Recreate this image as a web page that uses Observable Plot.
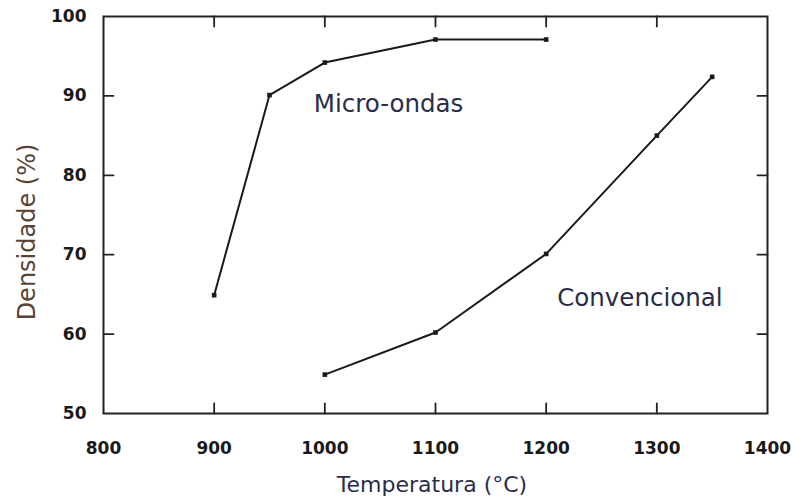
<!DOCTYPE html>
<html><head><meta charset="utf-8">
<script src="https://cdn.jsdelivr.net/npm/d3@7"></script>
<script src="https://cdn.jsdelivr.net/npm/@observablehq/plot@0.6"></script>
<style>html,body{margin:0;padding:0;background:#fff} svg{display:block}</style>
</head><body><div id="chart"></div>
<script>
// Data
const microTemp = [900, 950, 1000, 1100, 1200];
const microDens = [64.9, 90.1, 94.2, 97.1, 97.1];
const convTemp = [1000, 1100, 1200, 1300, 1350];
const convDens = [54.9, 60.2, 70.1, 85.0, 92.4];
const xTicks = [800, 900, 1000, 1100, 1200, 1300, 1400];
const yTicks = [50, 60, 70, 80, 90, 100];
const seriesNames = ["Micro-ondas", "Convencional"];
const seriesLabelTemp = [990, 1210];
const seriesLabelDens = [88.9, 64.5];
const xTitle = "Temperatura (°C)";
const yTitle = "Densidade (%)";

const micro = microTemp.map((t, i) => ({t, d: microDens[i]}));
const conv = convTemp.map((t, i) => ({t, d: convDens[i]}));
const seriesLabels = seriesNames.map((n, i) => ({n, t: seriesLabelTemp[i], d: seriesLabelDens[i]}));
const innerX = xTicks.slice(1, -1);
const innerY = yTicks.slice(1, -1);

const ink = "#1a1a1a";
// a straight tick that points "up" before rotation
const tickShape = {draw(context, l) { context.moveTo(0, 0); context.lineTo(0, -l); }};
const tick = {length: 10, anchor: "start", shape: tickShape, stroke: "#222", strokeWidth: 1.8};

const chart = Plot.plot({
  width: 792,
  height: 501,
  marginLeft: 103,
  marginRight: 25,
  marginTop: 16,
  marginBottom: 88,
  x: {domain: [800, 1400]},
  y: {domain: [50, 100]},
  style: {fontFamily: "DejaVu Sans", background: "#fff", color: ink},
  marks: [
    // tick labels
    Plot.axisX(xTicks, {anchor: "bottom", tickSize: 0, tickPadding: 28, tickFormat: "d", fontSize: 17, fontWeight: "bold", label: null}),
    Plot.axisY(yTicks, {anchor: "left", tickSize: 0, tickPadding: 17, tickFormat: "d", fontSize: 17, fontWeight: "bold", label: null}),
    // inward ticks on all four sides
    Plot.vector(innerX, {x: d => d, frameAnchor: "bottom", rotate: 0, ...tick}),
    Plot.vector(innerX, {x: d => d, frameAnchor: "top", rotate: 180, ...tick}),
    Plot.vector(innerY, {y: d => d, frameAnchor: "left", rotate: 90, ...tick}),
    Plot.vector(innerY, {y: d => d, frameAnchor: "right", rotate: -90, ...tick}),
    Plot.frame({stroke: "#222", strokeWidth: 2}),
    // series
    Plot.line(micro, {x: "t", y: "d", stroke: ink, strokeWidth: 2}),
    Plot.dot(micro, {x: "t", y: "d", symbol: "square", r: 2.6, fill: ink}),
    Plot.line(conv, {x: "t", y: "d", stroke: ink, strokeWidth: 2}),
    Plot.dot(conv, {x: "t", y: "d", symbol: "square", r: 2.6, fill: ink}),
    Plot.text(seriesLabels, {x: "t", y: "d", text: "n", textAnchor: "start", fontSize: 24.5, fill: "#2a2d4a"}),
    // axis titles
    Plot.text([xTitle], {text: d => d, frameAnchor: "bottom", textAnchor: "middle", lineAnchor: "middle", dx: -3.5, dy: 71, fontSize: 22, fill: "#2a2d4a"}),
    Plot.text([yTitle], {text: d => d, frameAnchor: "left", textAnchor: "middle", lineAnchor: "middle", dx: -75.7, dy: 17, rotate: -90, fontSize: 24, fill: "#5a4535"})
  ]
});
document.getElementById("chart").appendChild(chart);
</script>
</body></html>
